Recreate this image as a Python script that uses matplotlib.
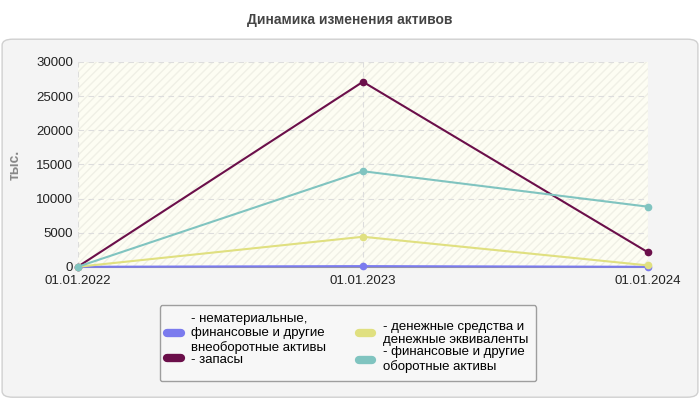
import matplotlib
matplotlib.use('Agg')
import matplotlib.pyplot as plt
from matplotlib.patches import FancyBboxPatch

dates = ['01.01.2022', '01.01.2023', '01.01.2024']
intangible = [0, 100, 0]
stocks = [0, 27100, 2100]
cash = [0, 4400, 200]
current_fin = [0, 14000, 8800]

series = [
    ('- нематериальные,\nфинансовые и другие\nвнеоборотные активы', intangible, '#7b7bee'),
    ('- запасы', stocks, '#6b0f4a'),
    ('- денежные средства и\nденежные эквиваленты', cash, '#e0e080'),
    ('- финансовые и другие\nоборотные активы', current_fin, '#80c4c0'),
]

plt.rcParams['font.family'] = ['Liberation Sans', 'DejaVu Sans']
fig = plt.figure(figsize=(7, 4), dpi=100)
fig.patch.set_facecolor('white')

# внешняя панель
panel = FancyBboxPatch((0.003, 0.007), 0.994, 0.895, boxstyle='round,pad=0,rounding_size=0.015',
                       transform=fig.transFigure, facecolor='#f4f4f4', edgecolor='#d0d0d0', lw=1,
                       zorder=-10)
fig.patches.append(panel)
fig.text(0.5, 0.95, 'Динамика изменения активов', ha='center', va='center',
         fontsize=10, fontweight='bold', color='#444444')

ax = fig.add_axes([0.111, 0.333, 0.815, 0.512])
ax.set_facecolor('#fdfdf3')
ax.fill_between([0, 2], 0, 30000, facecolor='none', edgecolor='#f0f0e6', hatch='////', lw=0)
x = list(range(len(dates)))
for label, vals, color in series:
    ax.plot(x, vals, color=color, lw=1.5, marker='o', ms=4.5, zorder=3, clip_on=False)
ax.set_xlim(0, 2)
ax.set_ylim(0, 30000)
ax.set_yticks(range(0, 30001, 5000))
ax.set_xticks(x)
ax.set_xticklabels(dates)
ax.grid(True, color='#dddddd', ls=(0, (5, 4)), lw=0.8)
for s in ax.spines.values():
    s.set_visible(False)
ax.spines['bottom'].set_visible(True)
ax.spines['bottom'].set_color('#999999')
ax.tick_params(length=0, labelsize=9.5, colors='#222222')
ax.tick_params(axis='x', pad=6)
ax.set_ylabel('тыс.', fontsize=10, fontweight='bold', color='#888888', labelpad=10)

handles = [plt.Line2D([], [], color=c, lw=6, solid_capstyle='round') for _, _, c in series]
leg = fig.legend(handles, [s[0] for s in series], ncol=2,
                 loc='center', bbox_to_anchor=(0.497, 0.142), fontsize=9.5, frameon=True,
                 handlelength=1.0, columnspacing=2.5, labelspacing=0.0, borderpad=0.6)
leg.get_frame().set_edgecolor('#888888')
leg.get_frame().set_facecolor('#f8f8f8')

fig.savefig('out.png', dpi=100)
